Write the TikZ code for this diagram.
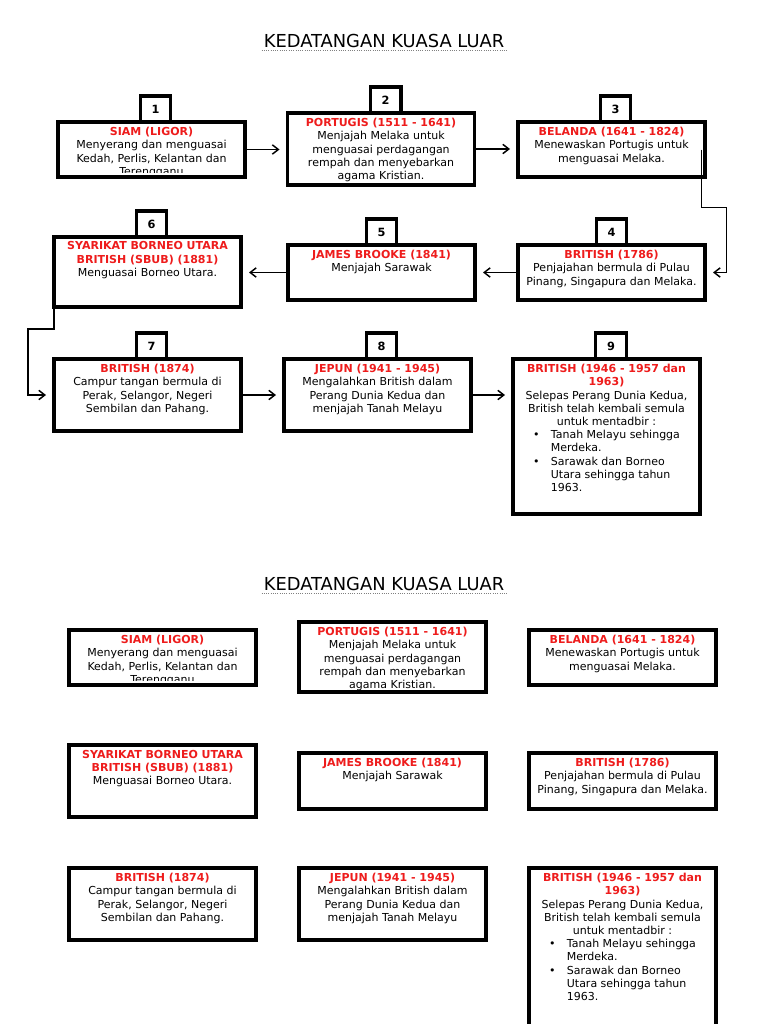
\documentclass[tikz,border=0pt]{standalone}
\usepackage{fontspec}
\setmainfont{DejaVu Sans}
\usepackage{xcolor}
\usepackage{tikz}
\usetikzlibrary{arrows.meta, positioning}
\definecolor{merah}{HTML}{EE1C1C}
\newcommand{\tajuk}[1]{\textcolor{merah}{\textbf{#1}}}

\begin{document}
\begin{tikzpicture}[
    x=0.75pt, y=-0.75pt,
    block/.style={draw, line width=2.3pt, minimum width=140.25pt, outer sep=0pt, inner sep=0pt},
    numtab/.style={draw, line width=2.3pt, minimum width=23pt, minimum height=19.5pt, outer sep=0pt, inner sep=0pt, font=\fontsize{8.5}{9}\selectfont\bfseries},
    info/.style={align=center, inner sep=1pt, outer sep=0pt, font=\fontsize{8.25}{9.9}\selectfont},
    judul/.style={inner sep=1.5pt, font=\fontsize{13.4}{15}\selectfont},
    underline/.style={gray, densely dotted, line width=0.7pt},
    arrow/.style={-{Straight Barb[length=4.5pt, width=7pt]}, line width=1.1pt, shorten >=6pt}
  ]
  \path[use as bounding box] (0,0) rectangle (768,1024);
  \fill[white] (0,0) rectangle (768,1024);
  \clip (0,0) rectangle (768,1024);

  % carta dengan nombor dan anak panah
  \node[judul] (h1) at (384,41) {KEDATANGAN KUASA LUAR};
  \draw[underline] (h1.south west) -- (h1.south east);

  \node[block, minimum height=41.25pt] (b1) at (151.5,149.5) {};
  \node[block, minimum height=54pt] (b2) at (381,149) {};
  \node[block, minimum height=41.25pt] (b3) at (611.5,149.5) {};
  \node[block, minimum height=41.25pt] (b4) at (611.5,272.5) {};
  \node[block, minimum height=41.25pt] (b5) at (381.5,272.5) {};
  \node[block, minimum height=52.5pt] (b6) at (147.5,272) {};
  \node[block, minimum height=54pt] (b7) at (147.5,395) {};
  \node[block, minimum height=54pt] (b8) at (377.5,395) {};
  \node[block, minimum height=116.25pt] (b9) at (606.5,436.5) {};

  \node[numtab, above=0pt of b1.north, xshift=3pt] (n1) {1};
  \node[numtab, above=0pt of b2.north, xshift=3.5pt] (n2) {2};
  \node[numtab, above=0pt of b3.north, xshift=3pt] (n3) {3};
  \node[numtab, above=0pt of b4.north] (n4) {4};
  \node[numtab, above=0pt of b5.north] (n5) {5};
  \node[numtab, above=0pt of b6.north, xshift=3pt] (n6) {6};
  \node[numtab, above=0pt of b7.north, xshift=3pt] (n7) {7};
  \node[numtab, above=0pt of b8.north, xshift=3pt] (n8) {8};
  \node[numtab, above=0pt of b9.north, xshift=3.5pt] (n9) {9};

  \begin{scope}
    \clip (b1.north west) rectangle ([yshift=3.75pt]b1.south east);
    \node[info, below=3pt of b1.north] (t1) {\tajuk{SIAM (LIGOR)}\\Menyerang dan menguasai\\Kedah, Perlis, Kelantan dan\\Terengganu};
  \end{scope}
  \node[info, below=3pt of b2.north] (t2) {\tajuk{PORTUGIS (1511 - 1641)}\\Menjajah Melaka untuk\\menguasai perdagangan\\rempah dan menyebarkan\\agama Kristian.};
  \node[info, below=3pt of b3.north] (t3) {\tajuk{BELANDA (1641 - 1824)}\\Menewaskan Portugis untuk\\menguasai Melaka.};
  \node[info, below=3pt of b4.north] (t4) {\tajuk{BRITISH (1786)}\\Penjajahan bermula di Pulau\\Pinang, Singapura dan Melaka.};
  \node[info, below=3pt of b5.north] (t5) {\tajuk{JAMES BROOKE (1841)}\\Menjajah Sarawak};
  \node[info, below=2.5pt of b6.north] (t6) {\tajuk{SYARIKAT BORNEO UTARA}\\\tajuk{BRITISH (SBUB) (1881)}\\Menguasai Borneo Utara.};
  \node[info, below=3pt of b7.north] (t7) {\tajuk{BRITISH (1874)}\\Campur tangan bermula di\\Perak, Selangor, Negeri\\Sembilan dan Pahang.};
  \node[info, below=3pt of b8.north] (t8) {\tajuk{JEPUN (1941 - 1945)}\\Mengalahkan British dalam\\Perang Dunia Kedua dan\\menjajah Tanah Melayu};
  \node[info, below=3pt of b9.north] (t9) {\tajuk{BRITISH (1946 - 1957 dan}\\\tajuk{1963)}\\Selepas Perang Dunia Kedua,\\British telah kembali semula\\untuk mentadbir :\\
    \begin{tabular}[t]{@{}l@{\hspace{8.5pt}}l@{}}\textbullet & Tanah Melayu sehingga\\ & Merdeka.\\ \textbullet & Sarawak dan Borneo\\ & Utara sehingga tahun\\ & 1963.\end{tabular}};

  \draw[arrow] (b1.east) -- (b1.east -| b2.west);
  \draw[arrow] (b2.east) -- (b2.east -| b3.west);
  \draw[arrow] ([xshift=-2.5pt]b3.east) -- ++(0,58) -- ++(25,0) |- (b4.east);
  \draw[arrow] (b4.west) -- (b4.west -| b5.east);
  \draw[arrow] (b5.west) -- (b5.west -| b6.east);
  \draw[arrow] (b6.south west) -- ++(0,22) -- ++(-26,0) |- (b7.west);
  \draw[arrow] (b7.east) -- (b7.east -| b8.west);
  \draw[arrow] (b8.east) -- (b8.east -| b9.west);

  % carta tanpa nombor
  \node[judul] (h2) at (384,584) {KEDATANGAN KUASA LUAR};
  \draw[underline] (h2.south west) -- (h2.south east);

  \node[block, minimum height=41.25pt] (c1) at (162.5,657.5) {};
  \node[block, minimum height=52.5pt] (c2) at (392.5,657) {};
  \node[block, minimum height=41.25pt] (c3) at (622.5,657.5) {};
  \node[block, minimum height=54pt] (c6) at (162.5,781) {};
  \node[block, minimum height=42pt] (c5) at (392.5,781) {};
  \node[block, minimum height=42pt] (c4) at (622.5,781) {};
  \node[block, minimum height=54pt] (c7) at (162.5,904) {};
  \node[block, minimum height=54pt] (c8) at (392.5,904) {};
  \node[block, minimum height=120pt] (c9) at (622.5,948) {};

  \begin{scope}
    \clip (c1.north west) rectangle ([yshift=3.75pt]c1.south east);
    \node[info, below=3pt of c1.north] (s1) {\tajuk{SIAM (LIGOR)}\\Menyerang dan menguasai\\Kedah, Perlis, Kelantan dan\\Terengganu};
  \end{scope}
  \node[info, below=3pt of c2.north] (s2) {\tajuk{PORTUGIS (1511 - 1641)}\\Menjajah Melaka untuk\\menguasai perdagangan\\rempah dan menyebarkan\\agama Kristian.};
  \node[info, below=3pt of c3.north] (s3) {\tajuk{BELANDA (1641 - 1824)}\\Menewaskan Portugis untuk\\menguasai Melaka.};
  \node[info, below=3pt of c4.north] (s4) {\tajuk{BRITISH (1786)}\\Penjajahan bermula di Pulau\\Pinang, Singapura dan Melaka.};
  \node[info, below=3pt of c5.north] (s5) {\tajuk{JAMES BROOKE (1841)}\\Menjajah Sarawak};
  \node[info, below=3pt of c6.north] (s6) {\tajuk{SYARIKAT BORNEO UTARA}\\\tajuk{BRITISH (SBUB) (1881)}\\Menguasai Borneo Utara.};
  \node[info, below=3pt of c7.north] (s7) {\tajuk{BRITISH (1874)}\\Campur tangan bermula di\\Perak, Selangor, Negeri\\Sembilan dan Pahang.};
  \node[info, below=3pt of c8.north] (s8) {\tajuk{JEPUN (1941 - 1945)}\\Mengalahkan British dalam\\Perang Dunia Kedua dan\\menjajah Tanah Melayu};
  \node[info, below=3pt of c9.north] (s9) {\tajuk{BRITISH (1946 - 1957 dan}\\\tajuk{1963)}\\Selepas Perang Dunia Kedua,\\British telah kembali semula\\untuk mentadbir :\\
    \begin{tabular}[t]{@{}l@{\hspace{8.5pt}}l@{}}\textbullet & Tanah Melayu sehingga\\ & Merdeka.\\ \textbullet & Sarawak dan Borneo\\ & Utara sehingga tahun\\ & 1963.\end{tabular}};
\end{tikzpicture}
\end{document}
